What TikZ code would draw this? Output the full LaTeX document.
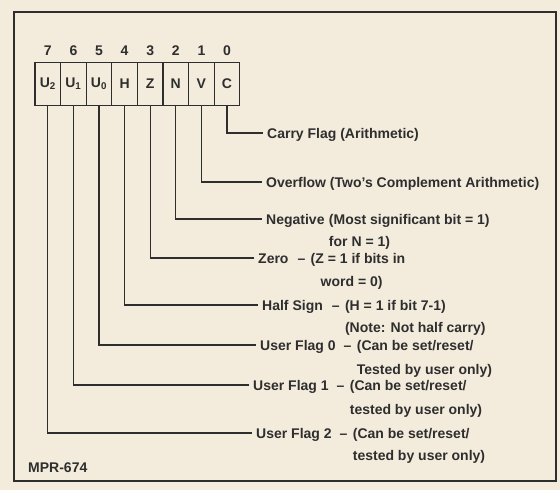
\documentclass[tikz,border=0pt]{standalone}
\usepackage{fontspec}
\setmainfont{Liberation Sans}
\definecolor{paper}{HTML}{F3ECDD}
\definecolor{ink}{HTML}{2E2E2E}
\begin{document}
\begin{tikzpicture}[x=1pt,y=-1pt,color=ink,
  font=\bfseries\fontsize{14}{17}\selectfont,
  bitbox/.style={draw, minimum width=25.6pt, minimum height=43pt, inner sep=0pt, line width=1.1pt},
  bitnum/.style={inner sep=0pt},
  lbl/.style={anchor=west, inner sep=0pt, text height=10pt, text depth=0pt},
  conn/.style={draw, line width=1.1pt, shorten >=4.5pt}]
\fill[paper] (0,0) rectangle (560,490);
\useasboundingbox (0,0) rectangle (560,490);
\draw[line width=1.1pt] (14,12) rectangle (556,481);
% register
\foreach \nm/\tx/\bit [count=\i from 0] in {U2/U\textsubscript{2}/7, U1/U\textsubscript{1}/6, U0/U\textsubscript{0}/5, H/H/4, Z/Z/3, N/N/2, V/V/1, C/C/0}{
  \node[bitbox] (b\nm) at ({35+25.6*(\i+0.5)},84) {\tx};
  \node[bitnum] (n\nm) at ({35+25.6*(\i+0.5)},51) {\bit};
}
% labels
\node[lbl] (lC) at (267,133) {Carry Flag (Arithmetic)};
\node[lbl] (lV) at (266,182) {Overflow (Two's Complement Arithmetic)};
\node[lbl] (lN) at (266,219) {Negative};
\node[lbl] (pN) at ([xshift=4pt]lN.east) {(Most significant bit = 1)};
\node[lbl] (pN2) at ([yshift=-22pt]pN.west) {for N = 1)};
\node[lbl] (lZ) at (258,258) {Zero\hspace{9pt}--};
\node[lbl] (pZ) at ([xshift=5pt]lZ.east) {(Z = 1 if bits in};
\node[lbl] (pZ2) at ([xshift=10pt,yshift=-23pt]pZ.west) {word = 0)};
\node[lbl] (lH) at (262,305) {Half Sign\hspace{9pt}--};
\node[lbl] (pH) at ([xshift=5pt]lH.east) {(H = 1 if bit 7-1)};
\node[lbl] (pH2) at ([yshift=-22pt]pH.west) {(Note: Not half carry)};
\node[lbl] (lU0) at (260,345) {User Flag 0\hspace{8pt}--};
\node[lbl] (pU0) at ([xshift=5pt]lU0.east) {(Can be set/reset/};
\node[lbl] (pU02) at ([yshift=-24pt]pU0.west) {Tested by user only)};
\node[lbl] (lU1) at (253,385) {User Flag 1\hspace{8pt}--};
\node[lbl] (pU1) at ([xshift=5pt]lU1.east) {(Can be set/reset/};
\node[lbl] (pU12) at ([yshift=-24pt]pU1.west) {tested by user only)};
\node[lbl] (lU2) at (256,433) {User Flag 2\hspace{8pt}--};
\node[lbl] (pU2) at ([xshift=5pt]lU2.east) {(Can be set/reset/};
\node[lbl] (pU22) at ([yshift=-22pt]pU2.west) {tested by user only)};
\node[lbl] (mpr) at (28,467) {MPR-674};
% connectors
\draw[conn] (bC.south) |- (lC.west);
\draw[conn] (bV.south) |- (lV.west);
\draw[conn] (bN.south) |- (lN.west);
\draw[conn] (bZ.south) |- (lZ.west);
\draw[conn] (bH.south) |- (lH.west);
\draw[conn] (bU0.south) |- (lU0.west);
\draw[conn] (bU1.south) |- (lU1.west);
\draw[conn] (bU2.south) |- (lU2.west);
\end{tikzpicture}
\end{document}
